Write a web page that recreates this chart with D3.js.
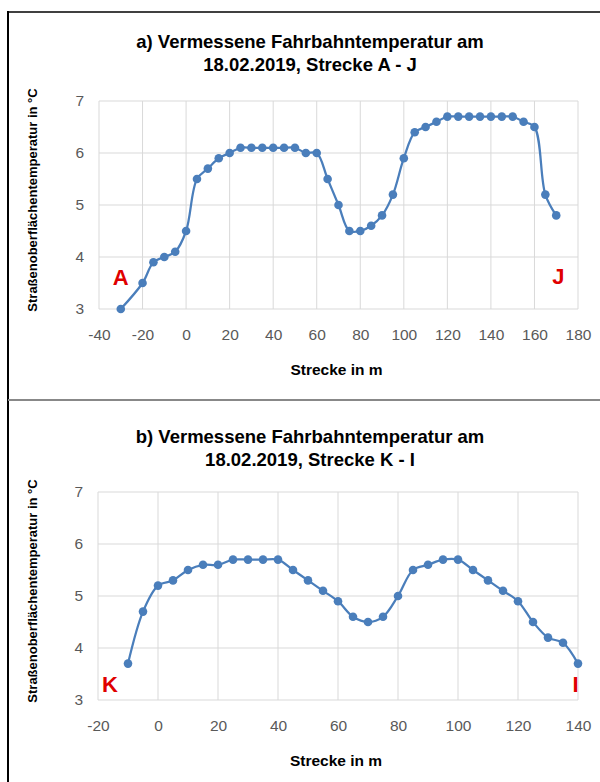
<!DOCTYPE html>
<html>
<head>
<meta charset="utf-8">
<script src="https://cdn.jsdelivr.net/npm/d3@7"></script>
<style>
  body { margin: 0; background: #fff; }
  svg { display: block; font-family: "Liberation Sans", Arial, sans-serif; }
</style>
</head>
<body>
<svg id="chart-container" width="600" height="782"></svg>
<script>
// data
var distA = [-30, -20, -15, -10, -5, 0, 5, 10, 15, 20, 25, 30, 35, 40, 45, 50, 55, 60, 65, 70,
             75, 80, 85, 90, 95, 100, 105, 110, 115, 120, 125, 130, 135, 140, 145, 150, 155, 160, 165, 170];
var tempA = [3.0, 3.5, 3.9, 4.0, 4.1, 4.5, 5.5, 5.7, 5.9, 6.0, 6.1, 6.1, 6.1, 6.1, 6.1, 6.1, 6.0, 6.0, 5.5, 5.0,
             4.5, 4.5, 4.6, 4.8, 5.2, 5.9, 6.4, 6.5, 6.6, 6.7, 6.7, 6.7, 6.7, 6.7, 6.7, 6.7, 6.6, 6.5, 5.2, 4.8];

var distB = [-10, -5, 0, 5, 10, 15, 20, 25, 30, 35, 40, 45, 50, 55, 60, 65, 70, 75, 80, 85,
             90, 95, 100, 105, 110, 115, 120, 125, 130, 135, 140];
var tempB = [3.7, 4.7, 5.2, 5.3, 5.5, 5.6, 5.6, 5.7, 5.7, 5.7, 5.7, 5.5, 5.3, 5.1, 4.9, 4.6, 4.5, 4.6, 5.0, 5.5,
             5.6, 5.7, 5.7, 5.5, 5.3, 5.1, 4.9, 4.5, 4.2, 4.1, 3.7];

var xTicksA = [-40, -20, 0, 20, 40, 60, 80, 100, 120, 140, 160, 180];
var xTicksB = [-20, 0, 20, 40, 60, 80, 100, 120, 140];
var yTicks = [3, 4, 5, 6, 7];

var titleA = ["a) Vermessene Fahrbahntemperatur am", "18.02.2019, Strecke A - J"];
var titleB = ["b) Vermessene Fahrbahntemperatur am", "18.02.2019, Strecke K - I"];
var yLabel = "Straßenoberflächentemperatur in °C";
var xLabel = "Strecke in m";

// point labels (position in data units)
var marksA = [{ t: "A", x: -30, y: 3.47 }, { t: "J", x: 171, y: 3.48 }];
var marksB = [{ t: "K", x: -16, y: 3.15 }, { t: "I", x: 139.2, y: 3.15 }];

var svg = d3.select("#chart-container");
var fontFam = "Liberation Sans, Arial, sans-serif";

// frame of the table around both charts
svg.append("line").attr("x1", 8).attr("x2", 8).attr("y1", 11).attr("y2", 782)
    .style("stroke", "#000").style("stroke-width", 2);
svg.append("line").attr("x1", 7).attr("x2", 600).attr("y1", 12).attr("y2", 12)
    .style("stroke", "#000").style("stroke-width", 1.5);
svg.append("line").attr("x1", 8).attr("x2", 600).attr("y1", 400).attr("y2", 400)
    .style("stroke", "#888").style("stroke-width", 2);

function drawChart(opt) {
    var x = d3.scaleLinear().domain(opt.xDomain).range([opt.left, opt.right]);
    var y = d3.scaleLinear().domain([3, 7]).range([opt.bottom, opt.top]);
    var g = svg.append("g");

    // grid
    g.append("g").selectAll("line").data(opt.xTicks).enter().append("line")
        .attr("x1", d => x(d)).attr("x2", d => x(d))
        .attr("y1", opt.top).attr("y2", opt.bottom)
        .style("stroke", "#d9d9d9").style("stroke-width", 1);
    g.append("g").selectAll("line").data(yTicks).enter().append("line")
        .attr("x1", opt.left).attr("x2", opt.right)
        .attr("y1", d => y(d)).attr("y2", d => y(d))
        .style("stroke", "#d9d9d9").style("stroke-width", 1);

    // axes (labels only, lines hidden); plain hyphen for negatives like Excel
    var xAxis = g.append("g")
        .attr("transform", `translate(0,${opt.bottom + 20})`)
        .call(d3.axisBottom(x).tickValues(opt.xTicks).tickSize(0).tickPadding(0)
            .tickFormat(d => String(d)));
    xAxis.select(".domain").remove();
    xAxis.attr("font-family", fontFam);
    xAxis.selectAll("text")
        .attr("font-size", 15.5)
        .style("fill", "#595959");

    var yAxis = g.append("g")
        .attr("transform", `translate(${opt.left - 15},0)`)
        .call(d3.axisLeft(y).tickValues(yTicks).tickSize(0).tickPadding(0)
            .tickFormat(d => String(d)));
    yAxis.select(".domain").remove();
    yAxis.attr("font-family", fontFam);
    yAxis.selectAll("text")
        .attr("font-size", 15.5)
        .style("fill", "#595959");

    // series
    var pts = opt.xs.map((d, i) => [d, opt.ys[i]]);
    var line = d3.line()
        .x(d => x(d[0])).y(d => y(d[1]))
        .curve(d3.curveCatmullRom.alpha(0.5));
    g.append("path").datum(pts)
        .attr("d", line)
        .style("fill", "none")
        .style("stroke", "#4a7ebb")
        .style("stroke-width", 2.25);
    g.append("g").selectAll("circle").data(pts).enter().append("circle")
        .attr("cx", d => x(d[0])).attr("cy", d => y(d[1]))
        .attr("r", 4.3)
        .style("fill", "#4a7ebb");

    // red letters
    g.append("g").selectAll("text").data(opt.marks).enter().append("text")
        .attr("x", d => x(d.x)).attr("y", d => y(d.y))
        .attr("text-anchor", "middle")
        .attr("font-size", 22).attr("font-weight", "bold")
        .style("fill", "#e00000")
        .text(d => d.t);

    // title
    var cx = 310;
    opt.title.forEach((t, i) => {
        g.append("text")
            .attr("x", cx).attr("y", opt.titleY[i])
            .attr("text-anchor", "middle")
            .attr("font-size", 18.5).attr("font-weight", "bold")
            .style("fill", "#000")
            .text(t);
    });

    // axis titles
    g.append("text")
        .attr("x", (opt.left + opt.right) / 2 - 2).attr("y", opt.bottom + 66)
        .attr("text-anchor", "middle")
        .attr("font-size", 15.5).attr("font-weight", "bold")
        .text(xLabel);
    g.append("text")
        .attr("transform", `translate(37,${(opt.top + opt.bottom) / 2 - 5}) rotate(-90)`)
        .attr("text-anchor", "middle")
        .attr("font-size", 13).attr("font-weight", "bold")
        .text(yLabel);
}

drawChart({
    xs: distA, ys: tempA, xDomain: [-40, 180], xTicks: xTicksA,
    left: 99, right: 578, top: 101, bottom: 309,
    title: titleA, titleY: [48, 70.5], marks: marksA
});
drawChart({
    xs: distB, ys: tempB, xDomain: [-20, 140], xTicks: xTicksB,
    left: 98, right: 578, top: 492, bottom: 700,
    title: titleB, titleY: [443, 466], marks: marksB
});
</script>
</body>
</html>
